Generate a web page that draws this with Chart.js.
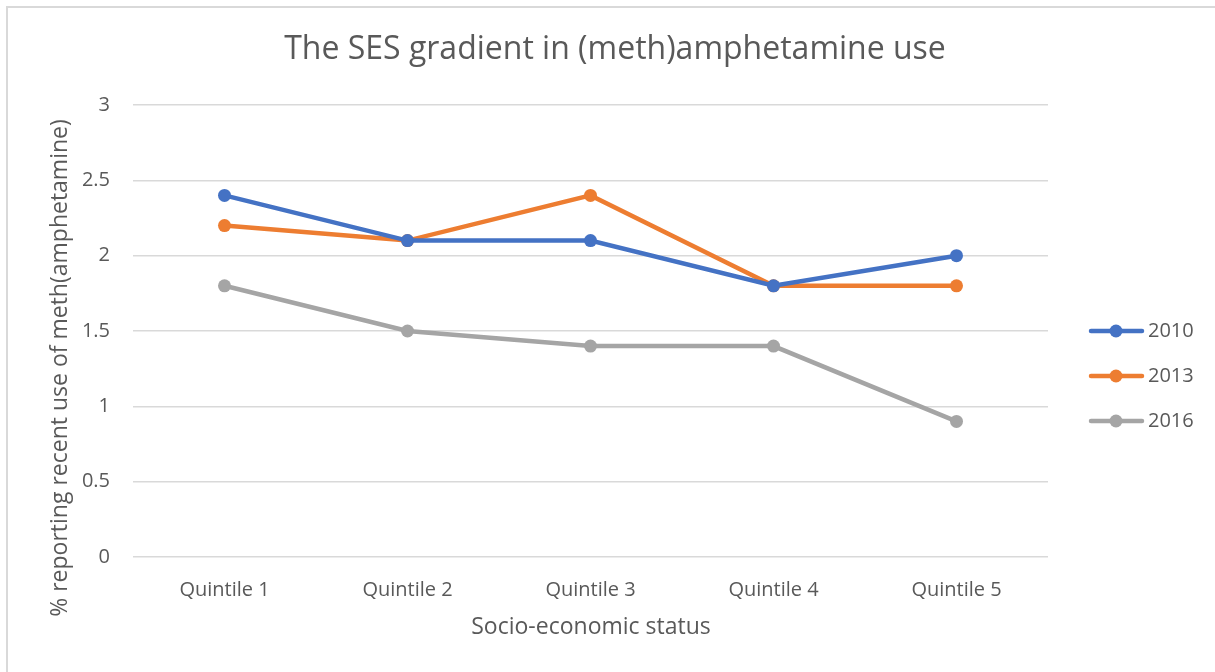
<!DOCTYPE html>
<html>
<head>
<meta charset="utf-8">
<script src="https://cdn.jsdelivr.net/npm/chart.js@4.4.1/dist/chart.umd.min.js"></script>
<style>
  html, body { margin: 0; padding: 0; background: #fff; }
  #wrap { position: relative; width: 1215px; height: 672px; }
  #frame { position: absolute; left: 6px; top: 6px; width: 1220px; height: 680px; border: 2px solid #d9d9d9; box-sizing: border-box; }
  canvas { position: absolute; left: 0; top: 0; }
</style>
</head>
<body>
<div id="wrap">
  <div id="frame"></div>
  <canvas id="chart" width="1215" height="672"></canvas>
</div>
<script>
const categories = ["Quintile 1", "Quintile 2", "Quintile 3", "Quintile 4", "Quintile 5"];
const seriesNames = ["2010", "2013", "2016"];
const values2010 = [2.4, 2.1, 2.1, 1.8, 2.0];
const values2013 = [2.2, 2.1, 2.4, 1.8, 1.8];
const values2016 = [1.8, 1.5, 1.4, 1.4, 0.9];
const colors = ["#4472C4", "#ED7D31", "#A5A5A5"];

const font = "'Open Sans', 'Noto Sans', sans-serif";
const textColor = "#595959";

const makeSet = (i, data) => ({
  label: seriesNames[i],
  data: data,
  borderColor: colors[i],
  backgroundColor: colors[i],
  borderWidth: 4.5,
  pointRadius: 6.5,
  pointHoverRadius: 6.5,
  pointBorderWidth: 0,
  tension: 0,
});

// title, axis titles and legend drawn by hand, Excel style
const extras = {
  id: "extras",
  afterDraw(chart) {
    const ctx = chart.ctx;
    ctx.save();
    ctx.fillStyle = textColor;
    ctx.textAlign = "center";
    ctx.textBaseline = "middle";
    ctx.font = "32px " + font;
    ctx.fillText("The SES gradient in (meth)amphetamine use", 615, 50);
    ctx.font = "23px " + font;
    ctx.fillText("Socio-economic status", 591, 627);
    ctx.translate(60, 368);
    ctx.rotate(-Math.PI / 2);
    ctx.fillText("% reporting recent use of meth(amphetamine)", 0, 0);
    ctx.restore();

    ctx.save();
    chart.data.datasets.forEach((ds, i) => {
      const y = 331 + i * 45;
      ctx.strokeStyle = ds.borderColor;
      ctx.lineWidth = 4.5;
      ctx.lineCap = "round";
      ctx.beginPath();
      ctx.moveTo(1091, y);
      ctx.lineTo(1142, y);
      ctx.stroke();
      ctx.fillStyle = ds.borderColor;
      ctx.beginPath();
      ctx.arc(1116, y, 6.5, 0, Math.PI * 2);
      ctx.fill();
      ctx.fillStyle = textColor;
      ctx.font = "20px " + font;
      ctx.textAlign = "left";
      ctx.textBaseline = "middle";
      ctx.fillText(ds.label, 1148, y);
    });
    ctx.restore();
  },
};

new Chart(document.getElementById("chart"), {
  type: "line",
  data: {
    labels: categories,
    datasets: [makeSet(0, values2010), makeSet(1, values2013), makeSet(2, values2016)],
  },
  options: {
    responsive: false,
    animation: false,
    layout: { padding: { left: 0, right: 167, top: 105, bottom: 0 } },
    plugins: {
      legend: { display: false },
      tooltip: { enabled: false },
    },
    scales: {
      x: {
        offset: true,
        grid: { display: false },
        border: { display: false },
        ticks: { color: textColor, font: { family: font, size: 20 }, padding: 13 },
        afterFit: (scale) => { scale.height = 115; },
      },
      y: {
        min: 0,
        max: 3,
        ticks: {
          stepSize: 0.5,
          color: textColor,
          font: { family: font, size: 20 },
          padding: 23,
          callback: (v) => String(v),
        },
        grid: { color: "#d9d9d9", lineWidth: 1.5, drawTicks: false },
        border: { display: false },
        afterFit: (scale) => { scale.width = 133; },
      },
    },
  },
  plugins: [extras],
});
</script>
</body>
</html>
